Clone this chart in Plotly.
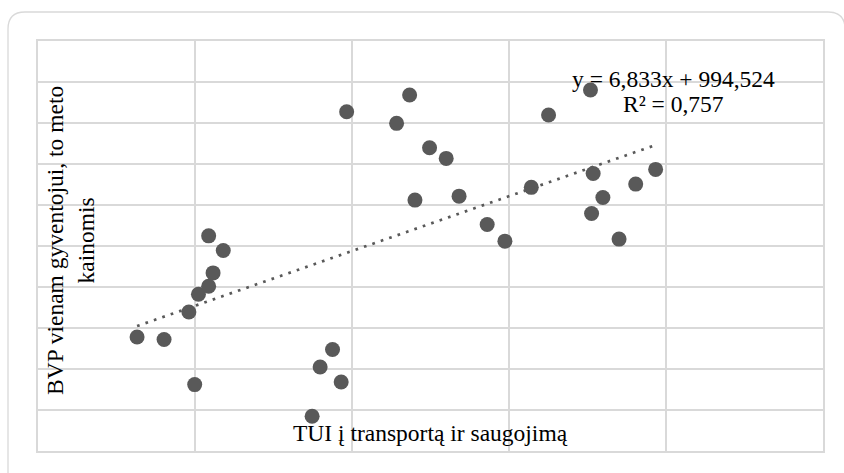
import numpy as np
import plotly.graph_objects as go

# TUI į transportą ir saugojimą (x) vs BVP vienam gyventojui (y)
tui_values = [63.1, 80.3, 99.8, 96.1, 102.2, 108.7, 111.5, 108.7, 118.0,
              174.6, 179.7, 187.6, 193.1, 196.6, 228.4, 236.7, 240.1, 249.4,
              260.0, 268.2, 286.1, 297.4, 314.2, 325.2, 351.9, 353.6, 352.6,
              359.8, 370.1, 380.7, 393.4]
bvp_values = [1391, 1360, 810, 1696, 1912, 2010, 2172, 2624, 2446,
              423, 1025, 1237, 842, 4137, 3996, 4341, 3060, 3698,
              3568, 3108, 2763, 2559, 3215, 4097, 4402, 3385, 2897,
              3092, 2584, 3255, 3434]

x_title = "TUI į transportą ir saugojimą"
y_title = "BVP vienam gyventojui, to meto<br>kainomis"
eq_line1 = "y = 6,833x + 994,524"
eq_line2 = "R² = 0,757"

W, H = 844, 473
L, R, T, B = 38, 21, 41, 22
PW, PH = W - L - R, H - T - B


def px(xp):
    return (xp - L) / PW


def py(yp):
    return (H - B - yp) / PH


FONT = "Liberation Serif, Times New Roman, serif"
GRID = "#d9d9d9"
MARK = "#595959"

# Linear trendline (least squares over the data)
slope, intercept = np.polyfit(tui_values, bvp_values, 1)
tx = np.array([min(tui_values), max(tui_values)])
ty = slope * tx + intercept

fig = go.Figure()
fig.add_trace(go.Scatter(
    x=tui_values, y=bvp_values, mode="markers",
    marker=dict(size=15, color=MARK, line=dict(width=0)),
    showlegend=False, hoverinfo="x+y"))
fig.add_trace(go.Scatter(
    x=tx, y=ty, mode="lines",
    line=dict(color=MARK, width=2.7, dash="2.7px,6.2px"),
    showlegend=False, hoverinfo="skip"))

axis_common = dict(showticklabels=False, ticks="", showgrid=True,
                   gridcolor=GRID, gridwidth=1.5, zeroline=False,
                   showline=True, linecolor=GRID, linewidth=1.5, mirror=True)
fig.update_xaxes(range=[0, 500], dtick=100, **axis_common)
fig.update_yaxes(range=[0, 5000], dtick=500, **axis_common)

# Outer rounded border
r = 17
xl, xr, yt, yb = 8, 845, 12, 495
path = (f"M {px(xl)},{py(yb)} L {px(xl)},{py(yt + r)} "
        f"Q {px(xl)},{py(yt)} {px(xl + r)},{py(yt)} "
        f"L {px(xr - r)},{py(yt)} Q {px(xr)},{py(yt)} {px(xr)},{py(yt + r)} "
        f"L {px(xr)},{py(yb)}")
fig.add_shape(type="path", path=path, xref="paper", yref="paper",
              line=dict(color=GRID, width=1.3), fillcolor="rgba(0,0,0,0)",
              layer="above")

fnt = dict(family=FONT, size=23.5, color="black")
fig.add_annotation(text=x_title, xref="paper", yref="paper",
                   x=0.5, y=py(433), xanchor="center", yanchor="middle",
                   showarrow=False, font=fnt)
fig.add_annotation(text=y_title, xref="paper", yref="paper",
                   x=px(70), y=py(241), xanchor="center", yanchor="middle",
                   textangle=-90, showarrow=False, font=fnt)
fig.add_annotation(text=eq_line1, xref="paper", yref="paper",
                   x=px(673.3), y=py(78.7), xanchor="center", yanchor="middle",
                   showarrow=False, font=fnt)
fig.add_annotation(text=eq_line2, xref="paper", yref="paper",
                   x=px(673.8), y=py(103.7), xanchor="center", yanchor="middle",
                   showarrow=False, font=fnt)

fig.update_layout(width=W, height=H,
                  margin=dict(l=L, r=R, t=T, b=B, pad=0),
                  paper_bgcolor="white", plot_bgcolor="white",
                  font=dict(family=FONT))

fig.write_html(
    "out.html",
    config={"displayModeBar": False},
    post_script="document.body.style.margin='0';document.body.style.padding='0';"
                "document.body.style.overflow='hidden';")
